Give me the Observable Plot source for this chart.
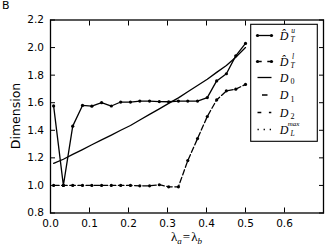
<!DOCTYPE html>
<html><head><meta charset="utf-8">
<script src="https://cdn.jsdelivr.net/npm/d3@7"></script>
<script src="https://cdn.jsdelivr.net/npm/@observablehq/plot@0.6"></script>
<style>
body{margin:0;background:#fff;}
#wrap{position:relative;width:332px;height:250px;overflow:hidden;font-family:"DejaVu Sans",sans-serif;}
#panel{position:absolute;left:2px;top:-1px;font-size:11px;color:#000;}
#wrap svg{position:absolute;left:0;top:0;}
</style></head><body><div id="wrap"></div>
<script>
// ---- data ----
const lambda = [0.008, 0.033, 0.057, 0.082, 0.106, 0.131, 0.156, 0.180, 0.205, 0.229, 0.254,
                0.279, 0.303, 0.328, 0.352, 0.377, 0.402, 0.426, 0.451, 0.475, 0.500];
const DuT = [1.577, 1.0, 1.43, 1.58, 1.575, 1.600, 1.576, 1.605, 1.605, 1.612, 1.612,
             1.608, 1.607, 1.612, 1.612, 1.612, 1.637, 1.758, 1.810, 1.940, 2.030];
const DlT = [1.0, 1.0, 1.0, 1.0, 1.0, 1.0, 1.0, 1.0, 1.0, 0.997, 0.997,
             1.005, 0.990, 0.990, 1.180, 1.340, 1.500, 1.620, 1.686, 1.698, 1.733];
const D0v = [1.160, 1.190, 1.225, 1.260, 1.295, 1.330, 1.365, 1.400, 1.435, 1.475, 1.515,
             1.555, 1.595, 1.635, 1.680, 1.725, 1.770, 1.820, 1.870, 1.930, 2.000];
const xTicks = [0.0, 0.1, 0.2, 0.3, 0.4, 0.5, 0.6];
const xFrameTicks = [0.0, 0.1, 0.2, 0.3, 0.4, 0.5, 0.6, 0.7];
const yTicks = [0.8, 1.0, 1.2, 1.4, 1.6, 1.8, 2.0, 2.2];
const xDomain = [0, 0.7];
const yDomain = [0.8, 2.2];
const panelLabel = "B";
const yLabel = "Dimension";
const legendKeys = ["Du", "Dl", "D0", "D1", "D2", "DL"];

const rows = lambda.map((x, i) => ({x, du: DuT[i], dl: DlT[i], d0: D0v[i]}));

const W = 332, H = 250;
const mL = 50, mR = 9, mT = 19.5, mB = 37.5;

const chart = Plot.plot({
  width: W, height: H,
  marginLeft: mL, marginRight: mR, marginTop: mT, marginBottom: mB,
  x: {domain: xDomain},
  y: {domain: yDomain},
  style: {fontFamily: "DejaVu Sans", fontSize: "10.5px", color: "#000", background: "transparent", overflow: "visible"},
  marks: [
    Plot.axisX(xTicks, {anchor: "bottom", tickSize: 0, tickPadding: 7, tickFormat: d => d.toFixed(1), label: null}),
    Plot.axisY(yTicks, {anchor: "left", tickSize: 0, tickPadding: 6.5, tickFormat: d => d.toFixed(1), label: null}),
    Plot.axisX(xFrameTicks, {anchor: "bottom", tickSize: -5, fill: "none", label: null}),
    Plot.axisX(xFrameTicks, {anchor: "top", tickSize: -5, fill: "none", label: null}),
    Plot.axisY(yTicks, {anchor: "left", tickSize: -5, fill: "none", label: null}),
    Plot.axisY(yTicks, {anchor: "right", tickSize: -5, fill: "none", label: null}),
    Plot.line(rows, {x: "x", y: "d0", stroke: "#000", strokeWidth: 1.3}),
    Plot.line(rows, {x: "x", y: "dl", stroke: "#000", strokeWidth: 1.3, strokeDasharray: "5.5,2.6"}),
    Plot.dot(rows, {x: "x", y: "dl", r: 1.6, fill: "#000", stroke: "none"}),
    Plot.line(rows, {x: "x", y: "du", stroke: "#000", strokeWidth: 1.3}),
    Plot.dot(rows, {x: "x", y: "du", r: 1.6, fill: "#000", stroke: "none"}),
    Plot.frame({stroke: "#000", strokeWidth: 1.3})
  ]
});

const wrap = document.getElementById("wrap");
wrap.appendChild(chart);
const p = document.createElement("div");
p.id = "panel"; p.textContent = panelLabel;
wrap.appendChild(p);

const svg = d3.select(chart);
const serif = "'Liberation Serif', 'DejaVu Serif', serif";

svg.append("text")
  .attr("transform", `translate(${15.5},${(mT + H - mB) / 2}) rotate(-90)`)
  .attr("text-anchor", "middle").attr("dominant-baseline", "central")
  .attr("font-family", "DejaVu Sans").attr("font-size", 12.5).attr("fill", "#000")
  .text(yLabel);

const xl = svg.append("text")
  .attr("x", (mL + W - mR) / 2).attr("y", 241).attr("text-anchor", "middle")
  .attr("font-family", serif).attr("font-size", 13).attr("fill", "#000");
xl.append("tspan").text("λ");
xl.append("tspan").attr("font-size", 9).attr("font-style", "italic").attr("dy", 3).text("a");
xl.append("tspan").attr("dy", -3).attr("dx", 1).text("=");
xl.append("tspan").attr("dx", 1).text("λ");
xl.append("tspan").attr("font-size", 9).attr("font-style", "italic").attr("dy", 3).text("b");

const lg = svg.append("g");
lg.append("rect").attr("x", 250.7).attr("y", 24.3).attr("width", 66.6).attr("height", 117)
  .attr("fill", "#fff").attr("stroke", "#000").attr("stroke-width", 1.1);
const rowY = [35.5, 61.5, 77.5, 95, 112.5, 129.5];
const sx0 = 257.5, sx1 = 271.5, tx = 284;
const dashes = {Du: null, Dl: "4.2,5.6", D0: null, D1: "0,4.5,5.5,10", D2: "3.8,7.6,2.4,10", DL: "1.3,4.8"};
const small = (x, y, s, italic) => lg.append("text").attr("x", x).attr("y", y)
  .attr("font-family", serif).attr("font-style", italic ? "italic" : "normal")
  .attr("font-size", 7.5).attr("fill", "#000").text(s);
legendKeys.forEach((k, i) => {
  const y = rowY[i];
  lg.append("line").attr("x1", sx0).attr("x2", sx1).attr("y1", y).attr("y2", y)
    .attr("stroke", "#000").attr("stroke-width", 1.3)
    .attr("stroke-dasharray", dashes[k]);
  if (k === "Du" || k === "Dl") {
    [sx0, sx1].forEach(cx => lg.append("circle").attr("cx", cx).attr("cy", y).attr("r", 1.6).attr("fill", "#000"));
  }
  lg.append("text").attr("x", tx).attr("y", y + 4)
    .attr("font-family", serif).attr("font-style", "italic").attr("font-size", 12).attr("fill", "#000")
    .text(k === "Du" || k === "Dl" ? "D\u0302" : "D");
  if (k === "Du" || k === "Dl") {
    small(tx + 9, y - 3, k === "Du" ? "u" : "l", true);
    small(tx + 8.5, y + 6.5, "T", true);
  } else if (k === "DL") {
    small(tx + 9.5, y - 3.5, "max", true).attr("font-size", 7);
    small(tx + 8.5, y + 6.5, "L", true);
  } else {
    small(tx + 8.5, y + 6.5, k.slice(1), false).attr("font-size", 8);
  }
});
</script></body></html>
